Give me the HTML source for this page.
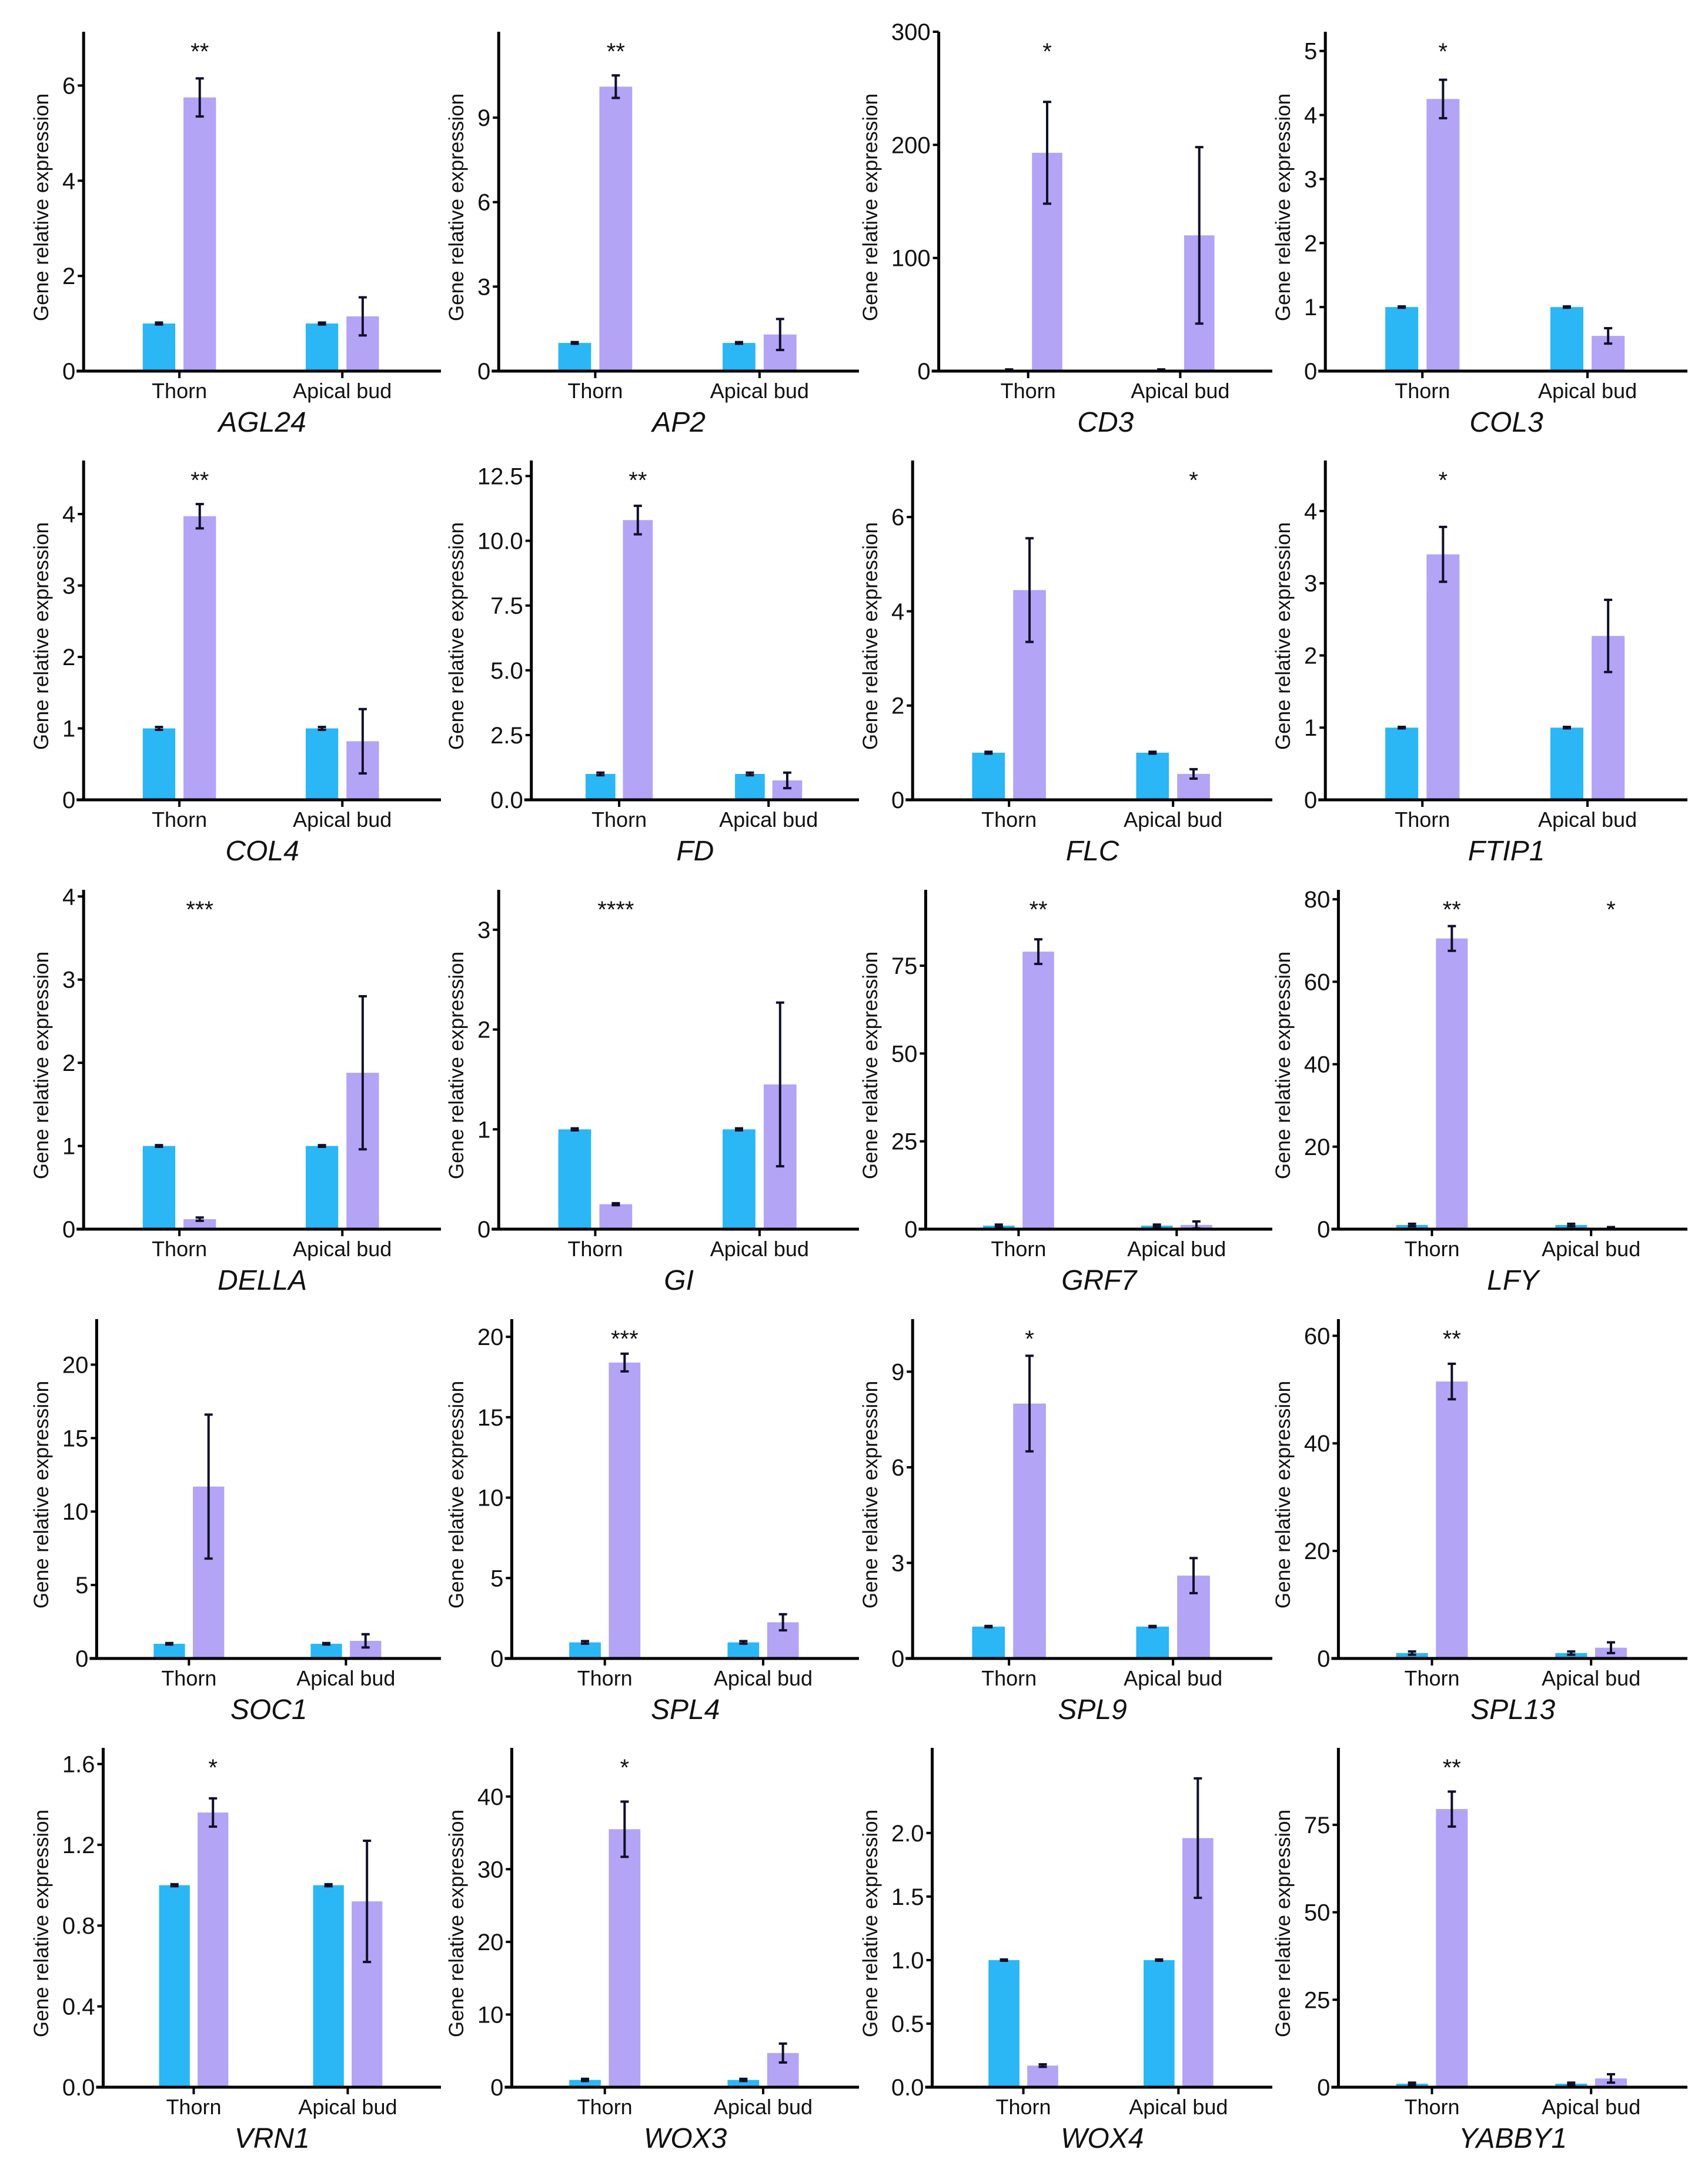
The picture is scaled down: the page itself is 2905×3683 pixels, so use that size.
<!DOCTYPE html>
<html><head><meta charset="utf-8">
<style>
html,body{margin:0;padding:0;background:#fff;}
svg{display:block;}
text{font-family:"Liberation Sans",Arial,sans-serif;fill:#111;}
</style></head>
<body>
<svg id="fig" width="2905" height="3683" viewBox="0 0 2905 3683" xmlns="http://www.w3.org/2000/svg"></svg>
<script>
const genes = ["AGL24","AP2","CD3","COL3","COL4","FD","FLC","FTIP1","DELLA","GI","GRF7","LFY","SOC1","SPL4","SPL9","SPL13","VRN1","WOX3","WOX4","YABBY1"];
const categories = ["Thorn","Apical bud"];
const blueVals = [1,1,1,1, 1,1,1,1, 1,1,1,1, 1,1,1,1, 1,1,1,1];
const blueErr = [0.02,0.03,0.5,0.01, 0.02,0.05,0.02,0.01, 0.01,0.01,0.3,0.3, 0.05,0.08,0.02,0.3, 0.005,0.15,0.005,0.3];
const thornVals = [5.75,10.1,193,4.25, 3.97,10.8,4.45,3.4, 0.12,0.25,79,70.5, 11.7,18.4,8.0,51.5, 1.36,35.5,0.17,79.5];
const thornErr = [0.4,0.4,45,0.3, 0.17,0.55,1.1,0.38, 0.02,0.01,3.5,3, 4.9,0.55,1.5,3.3, 0.07,3.8,0.01,5];
const apicalVals = [1.15,1.3,120,0.55, 0.82,0.75,0.55,2.27, 1.88,1.45,1.2,0.3, 1.2,2.25,2.6,2.0, 0.92,4.7,1.96,2.5];
const apicalErr = [0.4,0.55,78,0.12, 0.45,0.3,0.1,0.5, 0.92,0.82,1.0,0.2, 0.45,0.5,0.55,1.0, 0.3,1.3,0.47,1.2];
const yMax = [7.13,12.05,300,5.3, 4.75,13.1,7.2,4.7, 4.08,3.4,96.6,82.3, 23.1,21.1,10.65,63.1, 1.68,46.7,2.67,97];
const tickLabels = [
 ["0","2","4","6"],["0","3","6","9"],["0","100","200","300"],["0","1","2","3","4","5"],
 ["0","1","2","3","4"],["0.0","2.5","5.0","7.5","10.0","12.5"],["0","2","4","6"],["0","1","2","3","4"],
 ["0","1","2","3","4"],["0","1","2","3"],["0","25","50","75"],["0","20","40","60","80"],
 ["0","5","10","15","20"],["0","5","10","15","20"],["0","3","6","9"],["0","20","40","60"],
 ["0.0","0.4","0.8","1.2","1.6"],["0","10","20","30","40"],["0.0","0.5","1.0","1.5","2.0"],["0","25","50","75"]
];
const sigThorn = ["**","**","*","*", "**","**","","*", "***","****","**","**", "","***","*","**", "*","*","",  "**"];
const sigApical = ["","","","", "","","*","", "","","","*", "","","","", "","","",""];

const NS="http://www.w3.org/2000/svg";
const svg=document.getElementById('fig');
function mk(tag,attrs,parent){const e=document.createElementNS(NS,tag);for(const k in attrs)e.setAttribute(k,attrs[k]);(parent||svg).appendChild(e);return e;}
const titleX=[70,776,1480,2182];
const axisEnd=[750,1461,2164,2870];
const baselines=[631,1360,2090,2820,3549];
const plotH=577;
const BLUE="#2bb6f6", PURPLE="#b3a4f6", ERR="#10102a";
function labW(s){let w=0;for(const ch of s)w+=(ch==='.')?11.1:22.2;return w;}

genes.forEach((g,i)=>{
  const r=Math.floor(i/4), c=i%4;
  const mw=Math.max(...tickLabels[i].map(labW));
  const X=titleX[c]+mw+50;
  const W=axisEnd[c]-X;
  const B=baselines[r];
  const grp=mk('g',{});
  
  
  const y=v=>B-v/yMax[i]*plotH;
  const cx=[X+0.268*W,X+0.724*W];
  const off=0.057*W, bw=0.091*W;
  const vals=[[blueVals[i],blueErr[i],thornVals[i],thornErr[i]],[blueVals[i],blueErr[i],apicalVals[i],apicalErr[i]]];
  [0,1].forEach(k=>{
    const [bv,be,pv,pe]=vals[k];
    const b=mk('rect',{x:cx[k]-off-bw/2,y:y(bv),width:bw,height:B-y(bv),fill:BLUE},grp);
    
    
    const p=mk('rect',{x:cx[k]+off-bw/2,y:y(pv),width:bw,height:B-y(pv),fill:PURPLE},grp);
    
    
    [[cx[k]-off,bv,be],[cx[k]+off,pv,pe]].forEach(([ex,v,e])=>{
      const eg=mk('g',{stroke:ERR,'stroke-width':4},grp);
      
      
      mk('line',{x1:ex,x2:ex,y1:y(v+e),y2:y(Math.max(0,v-e))},eg);
      mk('line',{x1:ex-7,x2:ex+7,y1:y(v+e),y2:y(v+e)},eg);
      mk('line',{x1:ex-7,x2:ex+7,y1:y(Math.max(0,v-e)),y2:y(Math.max(0,v-e))},eg);
    });
  });
  const ya=mk('line',{x1:X,x2:X,y1:B-plotH,y2:B+2,stroke:'#000','stroke-width':5},grp);
  
  
  const xa=mk('line',{x1:X-12,x2:axisEnd[c],y1:B,y2:B,stroke:'#000','stroke-width':5},grp);
  
  
  tickLabels[i].forEach(t=>{
    const ty=y(parseFloat(t));
    mk('line',{x1:X-10,x2:X,y1:ty,y2:ty,stroke:'#000','stroke-width':4},grp);
    const tl=mk('text',{x:X-14,y:ty+14,'text-anchor':'end','font-size':40},grp);
    tl.textContent=t;
    
    
  });
  categories.forEach((cat,k)=>{
    mk('line',{x1:cx[k],x2:cx[k],y1:B,y2:B+12,stroke:'#000','stroke-width':4},grp);
    const cl=mk('text',{x:cx[k],y:B+46,'text-anchor':'middle','font-size':36},grp);
    cl.textContent=cat;
    
    
  });
  const yt=mk('text',{x:0,y:0,'text-anchor':'middle','font-size':35,transform:`translate(${titleX[c]+12},${B-plotH/2+10}) rotate(-90)`},grp);
  yt.textContent="Gene relative expression";
  
  
  const gt=mk('text',{x:X+W/2,y:B+103,'text-anchor':'middle','font-size':48,'font-style':'italic'},grp);
  gt.textContent=g;
  
  
  [[sigThorn[i],cx[0]+off],[sigApical[i],cx[1]+off]].forEach(([s,sx])=>{
    if(!s)return;
    const st=mk('text',{x:sx,y:B-530,'text-anchor':'middle','font-size':40},grp);
    st.textContent=s;
    
    
  });
});
</script>
</body></html>
